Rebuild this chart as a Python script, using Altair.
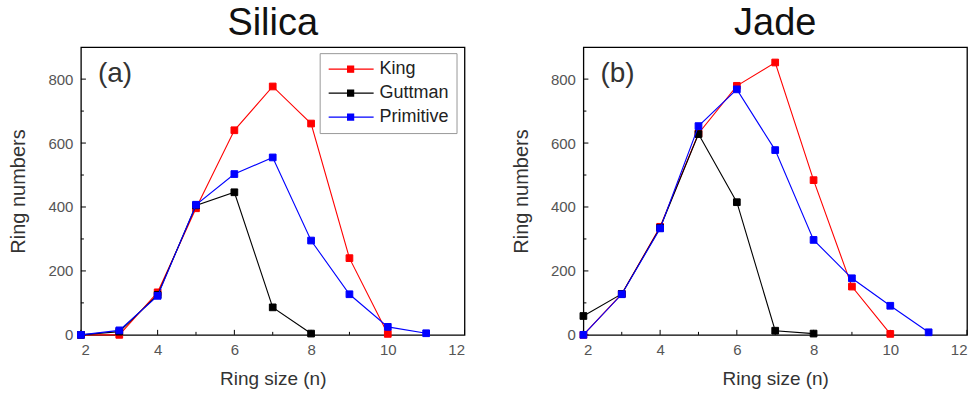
import altair as alt
import pandas as pd

# ---------------- data ----------------
series_names = ["King", "Guttman", "Primitive"]
series_colors = ["#ff0000", "#000000", "#0000ff"]

silica_king_n = [2, 3, 4, 5, 6, 7, 8, 9, 10]
silica_king = [0, 0, 133, 396, 640, 777, 661, 240, 3]
silica_guttman_n = [2, 3, 4, 5, 6, 7, 8]
silica_guttman = [0, 10, 125, 405, 446, 86, 4]
silica_primitive_n = [2, 3, 4, 5, 6, 7, 8, 9, 10, 11]
silica_primitive = [0, 14, 122, 407, 503, 555, 295, 127, 25, 5]

jade_king_n = [2, 3, 4, 5, 6, 7, 8, 9, 10]
jade_king = [0, 128, 338, 630, 779, 852, 484, 151, 3]
jade_guttman_n = [2, 3, 4, 5, 6, 7, 8]
jade_guttman = [59, 128, 335, 628, 415, 13, 4]
jade_primitive_n = [2, 3, 4, 5, 6, 7, 8, 9, 10, 11]
jade_primitive = [0, 127, 333, 653, 768, 578, 297, 177, 91, 8]

x_labels = [2, 4, 6, 8, 10, 12]
x_minor = [3, 5, 7, 9, 11]
y_labels = [0, 200, 400, 600, 800]
y_minor = [100, 300, 500, 700]

panel_titles = ["Silica", "Jade"]
panel_tags = ["(a)", "(b)"]


def make_df(parts):
    rows = []
    for s, ns, vs in parts:
        for n, v in zip(ns, vs):
            rows.append({"series": s, "n": n, "value": v})
    return pd.DataFrame(rows)


silica_df = make_df([
    ("King", silica_king_n, silica_king),
    ("Guttman", silica_guttman_n, silica_guttman),
    ("Primitive", silica_primitive_n, silica_primitive),
])
jade_df = make_df([
    ("King", jade_king_n, jade_king),
    ("Guttman", jade_guttman_n, jade_guttman),
    ("Primitive", jade_primitive_n, jade_primitive),
])

W, H = 384, 288
FONT = "Liberation Sans"
cscale = alt.Scale(domain=series_names, range=series_colors)

x_enc = alt.X("n:Q", scale=alt.Scale(domain=[2, 12], nice=False),
              axis=alt.Axis(values=x_labels, title="Ring size (n)",
                            titleFontSize=19))
y_enc = alt.Y("value:Q", scale=alt.Scale(domain=[0, 900], nice=False),
              axis=alt.Axis(values=y_labels, title="Ring numbers",
                            titleFontSize=20, titlePadding=19))

# legend symbol: line with a small square in the middle
sym_path = ("M-1,0H1.71M2.57,0H5.43"
            "M1.71,-0.43H2.57V0.43H1.71Z")


def panel(df, title, tag, show_legend):
    if show_legend:
        leg = alt.Legend(orient="none", legendX=239, legendY=6, title=None,
                         symbolType=sym_path, symbolSize=196,
                         symbolStrokeWidth=1.2, labelFontSize=18,
                         labelFont=FONT, labelColor="#222",
                         labelOffset=35, padding=7, rowPadding=6,
                         strokeColor="#999", fillColor="white")
    else:
        leg = None
    base = alt.Chart(df)
    layers = []
    for s in series_names:
        sub = base.transform_filter(alt.datum.series == s)
        layers.append(sub.mark_line(strokeWidth=1.1).encode(
            x=x_enc, y=y_enc,
            color=alt.Color("series:N", scale=cscale, legend=None)))
        layers.append(sub.mark_point(shape="square", filled=True, size=45,
                                     opacity=1, strokeWidth=1).encode(
            x=x_enc, y=y_enc,
            fill=alt.Fill("series:N", scale=cscale, legend=leg),
            stroke=alt.Stroke("series:N", scale=cscale, legend=leg)))
    # inward ticks
    xmaj = alt.Chart(pd.DataFrame({"n": x_labels})).mark_rule(
        color="black", strokeWidth=1).encode(
        x=x_enc, y=alt.value(H), y2=alt.value(H - 5))
    xmin = alt.Chart(pd.DataFrame({"n": x_minor})).mark_rule(
        color="black", strokeWidth=1).encode(
        x=x_enc, y=alt.value(H), y2=alt.value(H - 3))
    ymaj = alt.Chart(pd.DataFrame({"value": y_labels})).mark_rule(
        color="black", strokeWidth=1).encode(
        y=y_enc, x=alt.value(0), x2=alt.value(5))
    ymin = alt.Chart(pd.DataFrame({"value": y_minor})).mark_rule(
        color="black", strokeWidth=1).encode(
        y=y_enc, x=alt.value(0), x2=alt.value(3))
    tag_text = alt.Chart(pd.DataFrame({"t": [tag]})).mark_text(
        align="left", baseline="middle", fontSize=28, font=FONT,
        color="#333").encode(text="t:N", x=alt.value(17), y=alt.value(27))
    return alt.layer(xmaj, xmin, ymaj, ymin, *layers, tag_text).properties(
        width=W, height=H,
        title=alt.Title(title, fontSize=38, font=FONT, fontWeight="normal",
                        anchor="middle", offset=4, color="#111"))


left = panel(silica_df, panel_titles[0], panel_tags[0], True)
right = panel(jade_df, panel_titles[1], panel_tags[1], False)

chart = alt.hconcat(left, right, spacing=44).resolve_legend(
    fill="independent", stroke="independent"
).properties(
    padding={"left": 8, "top": 4, "right": 5, "bottom": 0}
).configure_view(
    stroke="black", strokeWidth=1.3
).configure_axis(
    domain=False, ticks=False, grid=False,
    labelFont=FONT, labelFontSize=15, labelColor="#555", labelPadding=8,
    titleFont=FONT, titleFontSize=18, titleColor="#333",
    titleFontWeight="normal", titlePadding=12
)

chart.save("out.html", embed_options={"renderer": "svg", "actions": False})
